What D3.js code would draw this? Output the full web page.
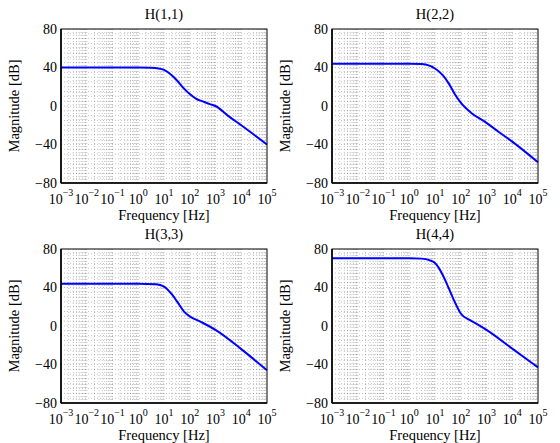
<!DOCTYPE html>
<html>
<head>
<meta charset="utf-8">
<script src="https://cdn.jsdelivr.net/npm/d3@7"></script>
<style>
  body { margin: 0; background: #fff; }
  svg text { font-family: 'Liberation Serif', 'Times New Roman', serif; }
</style>
</head>
<body>
<div id="chart"></div>
<script>
var titles = ["H(1,1)", "H(2,2)", "H(3,3)", "H(4,4)"];

// frequency [Hz] and magnitude [dB]
var h11Freq = [1e-3, 1e-1, 1, 3, 6, 10, 20, 32, 60, 100, 180, 300, 600, 1000, 3000, 1e4, 1e5];
var h11Mag = [40, 40, 40, 39.7, 39, 37.5, 32, 26.5, 18, 12.5, 7.5, 5, 2, 0, -10, -20, -40];

var h22Freq = [1e-3, 1e-1, 1, 3, 6, 10, 20, 35, 60, 100, 250, 1000, 3000, 1e4, 1e5];
var h22Mag = [44, 44, 44, 43.6, 42, 39, 32, 23, 12, 3.5, -7, -17.5, -27, -37, -58.5];

var h33Freq = [1e-3, 1e-1, 1, 5, 10, 20, 32, 60, 100, 260, 1000, 1e4, 1e5];
var h33Mag = [44, 44, 44, 43.3, 41, 33, 25.5, 15, 10, 4.5, -4, -24, -46];

var h44Freq = [1e-3, 1e-1, 1, 3, 6, 10, 20, 28, 50, 100, 220, 500, 1000, 1e4, 1e5];
var h44Mag = [70.5, 70.5, 70.5, 70, 68.5, 65.5, 53, 44.5, 29, 13, 6.3, 1, -4, -23.5, -43];

var yTicks = [-80, -40, 0, 40, 80];
var xExponents = [-3, -2, -1, 0, 1, 2, 3, 4, 5];

var freqs = [h11Freq, h22Freq, h33Freq, h44Freq];
var mags = [h11Mag, h22Mag, h33Mag, h44Mag];

var width = 560, height = 443;
var svg = d3.select("#chart").append("svg")
    .attr("width", width)
    .attr("height", height);

var pw = 206, ph = 154;
var lefts = [61, 332, 61, 332];
var tops = [29, 29, 249, 249];

var x = d3.scaleLog().domain([1e-3, 1e5]).range([0, pw]);
var y = d3.scaleLinear().domain([-80, 80]).range([ph, 0]);

// minor log positions for the grid
var xGrid = [];
for (var e = -3; e < 5; e++) {
  for (var k = 1; k < 10; k++) xGrid.push(k * Math.pow(10, e));
}
var yGrid = d3.range(-75, 80, 5);

var line = d3.line()
    .x(function(d) { return x(d[0]); })
    .y(function(d) { return y(d[1]); })
    .curve(d3.curveMonotoneX);

for (var i = 0; i < 4; i++) {
  var g = svg.append("g")
      .attr("transform", "translate(" + lefts[i] + "," + tops[i] + ")");

  g.append("g").selectAll("line")
      .data(xGrid.slice(1))
      .enter().append("line")
      .attr("x1", function(d) { return x(d); })
      .attr("x2", function(d) { return x(d); })
      .attr("y1", 0).attr("y2", ph)
      .attr("stroke", "#000")
      .attr("stroke-opacity", 0.35)
      .attr("stroke-width", 0.7)
      .attr("stroke-dasharray", "1,2");

  g.append("g").selectAll("line")
      .data(yGrid)
      .enter().append("line")
      .attr("x1", 0).attr("x2", pw)
      .attr("y1", function(d) { return y(d); })
      .attr("y2", function(d) { return y(d); })
      .attr("stroke", "#000")
      .attr("stroke-opacity", 0.35)
      .attr("stroke-width", 0.7)
      .attr("stroke-dasharray", "1,2");

  var pts = d3.zip(freqs[i], mags[i]);
  g.append("path")
      .datum(pts)
      .attr("fill", "none")
      .attr("stroke", "#0000ff")
      .attr("stroke-width", 2)
      .attr("d", line);

  g.append("rect")
      .attr("width", pw).attr("height", ph)
      .attr("fill", "none")
      .attr("stroke", "#000")
      .attr("stroke-width", 1);
  g.append("line")
      .attr("x1", 0).attr("x2", 0).attr("y1", 0).attr("y2", ph)
      .attr("stroke", "#000").attr("stroke-width", 1.6);
  g.append("line")
      .attr("x1", 0).attr("x2", pw).attr("y1", ph).attr("y2", ph)
      .attr("stroke", "#000").attr("stroke-width", 1.6);

  // y tick labels
  g.append("g").selectAll("text")
      .data(yTicks)
      .enter().append("text")
      .attr("x", -4)
      .attr("y", function(d) { return y(d); })
      .attr("dy", "0.33em")
      .attr("text-anchor", "end")
      .attr("font-size", 14)
      .text(function(d) { return d < 0 ? "\u2212" + (-d) : d; });

  // x tick labels 10^n
  var xl = g.append("g").selectAll("text")
      .data(xExponents)
      .enter().append("text")
      .attr("x", function(d) { return x(Math.pow(10, d)); })
      .attr("y", ph + 21)
      .attr("text-anchor", "middle")
      .attr("font-size", 14);
  xl.append("tspan").text("10");
  xl.append("tspan")
      .attr("dy", -8)
      .attr("font-size", 10)
      .text(function(d) { return d < 0 ? "\u2212" + (-d) : d; });

  g.append("text")
      .attr("x", pw / 2)
      .attr("y", ph + 37)
      .attr("text-anchor", "middle")
      .attr("font-size", 14.5)
      .text("Frequency [Hz]");

  g.append("text")
      .attr("transform", "translate(-42," + (ph / 2) + ") rotate(-90)")
      .attr("text-anchor", "middle")
      .attr("font-size", 14.5)
      .text("Magnitude [dB]");

  g.append("text")
      .attr("x", pw / 2)
      .attr("y", -10)
      .attr("text-anchor", "middle")
      .attr("font-size", 14.5)
      .text(titles[i]);
}
</script>
</body>
</html>
